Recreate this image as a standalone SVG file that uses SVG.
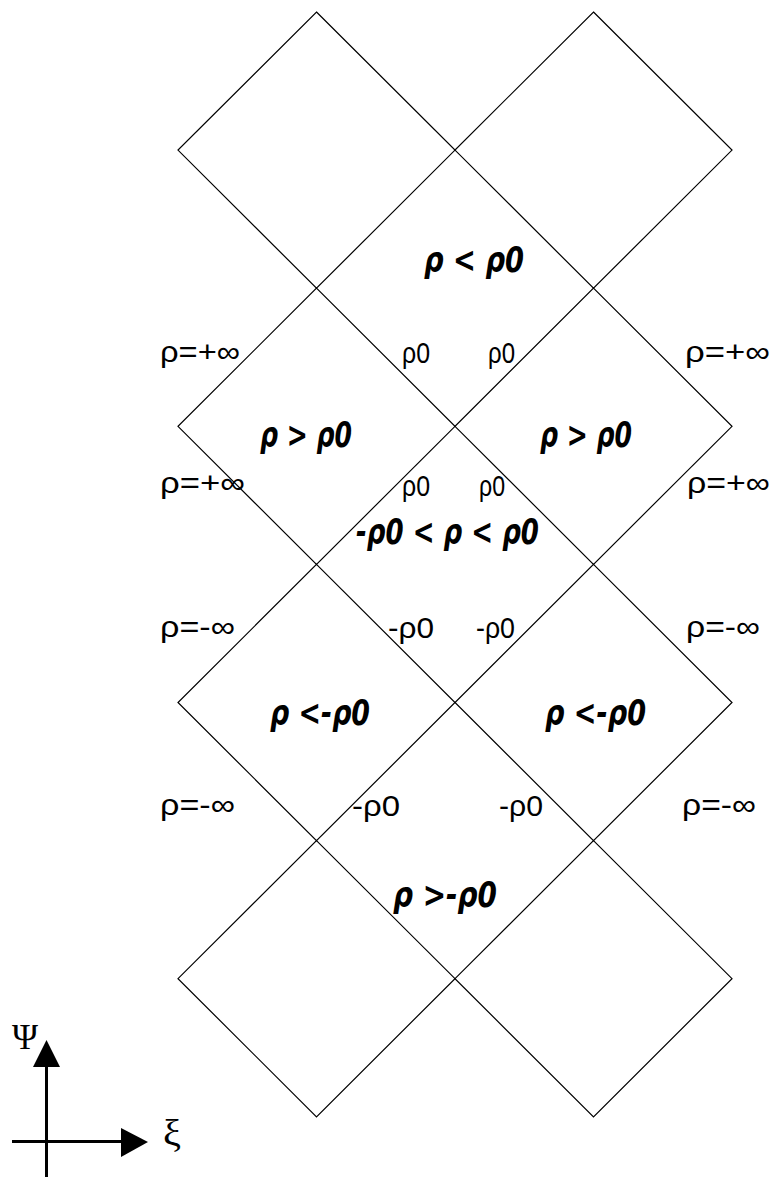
<svg xmlns="http://www.w3.org/2000/svg" width="774" height="1177" viewBox="0 0 774 1177">
<style>
.d{fill:none;stroke:#000;stroke-width:1.2}
.r{font-family:"Liberation Sans",Arial,sans-serif;font-size:30px;fill:#000}
.b{font-family:"DejaVu Sans","Liberation Sans",sans-serif;font-size:35px;font-weight:bold;font-style:italic;fill:#000}
.ax{stroke:#000;stroke-width:3;fill:none}
</style>
<defs>
<polygon id="dm" class="d" points="0,-138.1 138.5,0 0,138.1 -138.5,0"/>
</defs>
<rect width="774" height="1177" fill="#fff"/>
<g id="diamonds">
<use href="#dm" x="316.5" y="150.1"/>
<use href="#dm" x="593.5" y="150.1"/>
<use href="#dm" x="316.5" y="426.3"/>
<use href="#dm" x="593.5" y="426.3"/>
<use href="#dm" x="316.5" y="702.5"/>
<use href="#dm" x="593.5" y="702.5"/>
<use href="#dm" x="316.5" y="978.7"/>
<use href="#dm" x="593.5" y="978.7"/>
</g>
<g id="region-labels">
<text class="b" x="424" y="272" textLength="100" lengthAdjust="spacingAndGlyphs">ρ &lt; ρ0</text>
<text class="b" x="260" y="447" textLength="92" lengthAdjust="spacingAndGlyphs">ρ &gt; ρ0</text>
<text class="b" x="540" y="447" textLength="92" lengthAdjust="spacingAndGlyphs">ρ &gt; ρ0</text>
<text class="b" x="356" y="544" textLength="183" lengthAdjust="spacingAndGlyphs">-ρ0 &lt; ρ &lt; ρ0</text>
<text class="b" x="270" y="725" textLength="100" lengthAdjust="spacingAndGlyphs">ρ &lt;-ρ0</text>
<text class="b" x="545" y="725" textLength="101" lengthAdjust="spacingAndGlyphs">ρ &lt;-ρ0</text>
<text class="b" x="393" y="907" textLength="104" lengthAdjust="spacingAndGlyphs">ρ &gt;-ρ0</text>
</g>
<g id="edge-labels">
<text class="r" x="160" y="362" textLength="80" lengthAdjust="spacingAndGlyphs">ρ=+∞</text>
<text class="r" x="402" y="363" textLength="28" lengthAdjust="spacingAndGlyphs">ρ0</text>
<text class="r" x="488" y="363" textLength="27" lengthAdjust="spacingAndGlyphs">ρ0</text>
<text class="r" x="685" y="362" textLength="85" lengthAdjust="spacingAndGlyphs">ρ=+∞</text>
<text class="r" x="160" y="493" textLength="85" lengthAdjust="spacingAndGlyphs">ρ=+∞</text>
<text class="r" x="402" y="496" textLength="28" lengthAdjust="spacingAndGlyphs">ρ0</text>
<text class="r" x="479" y="496" textLength="26" lengthAdjust="spacingAndGlyphs">ρ0</text>
<text class="r" x="687" y="493" textLength="83" lengthAdjust="spacingAndGlyphs">ρ=+∞</text>
<text class="r" x="160" y="637" textLength="75" lengthAdjust="spacingAndGlyphs">ρ=-∞</text>
<text class="r" x="388" y="638" textLength="46" lengthAdjust="spacingAndGlyphs">-ρ0</text>
<text class="r" x="476" y="638" textLength="39" lengthAdjust="spacingAndGlyphs">-ρ0</text>
<text class="r" x="686" y="637" textLength="74" lengthAdjust="spacingAndGlyphs">ρ=-∞</text>
<text class="r" x="160" y="815" textLength="75" lengthAdjust="spacingAndGlyphs">ρ=-∞</text>
<text class="r" x="352" y="816" textLength="48" lengthAdjust="spacingAndGlyphs">-ρ0</text>
<text class="r" x="499" y="816" textLength="44" lengthAdjust="spacingAndGlyphs">-ρ0</text>
<text class="r" x="682" y="815" textLength="74" lengthAdjust="spacingAndGlyphs">ρ=-∞</text>
</g>
<g id="axes">
<line class="ax" x1="46.5" y1="1066" x2="46.5" y2="1177"/>
<line class="ax" x1="12" y1="1141.5" x2="122" y2="1141.5"/>
<polygon points="46.5,1040 60,1067 33,1067" fill="#000"/>
<polygon points="148,1142 121,1128 121,1157" fill="#000"/>
<text x="12" y="1049" style="font-family:'Liberation Serif',serif;font-size:36px" textLength="26" lengthAdjust="spacingAndGlyphs">Ψ</text>
<text x="163" y="1146" style="font-family:'Liberation Serif',serif;font-size:38px" textLength="18" lengthAdjust="spacingAndGlyphs">ξ</text>
</g>
</svg>
